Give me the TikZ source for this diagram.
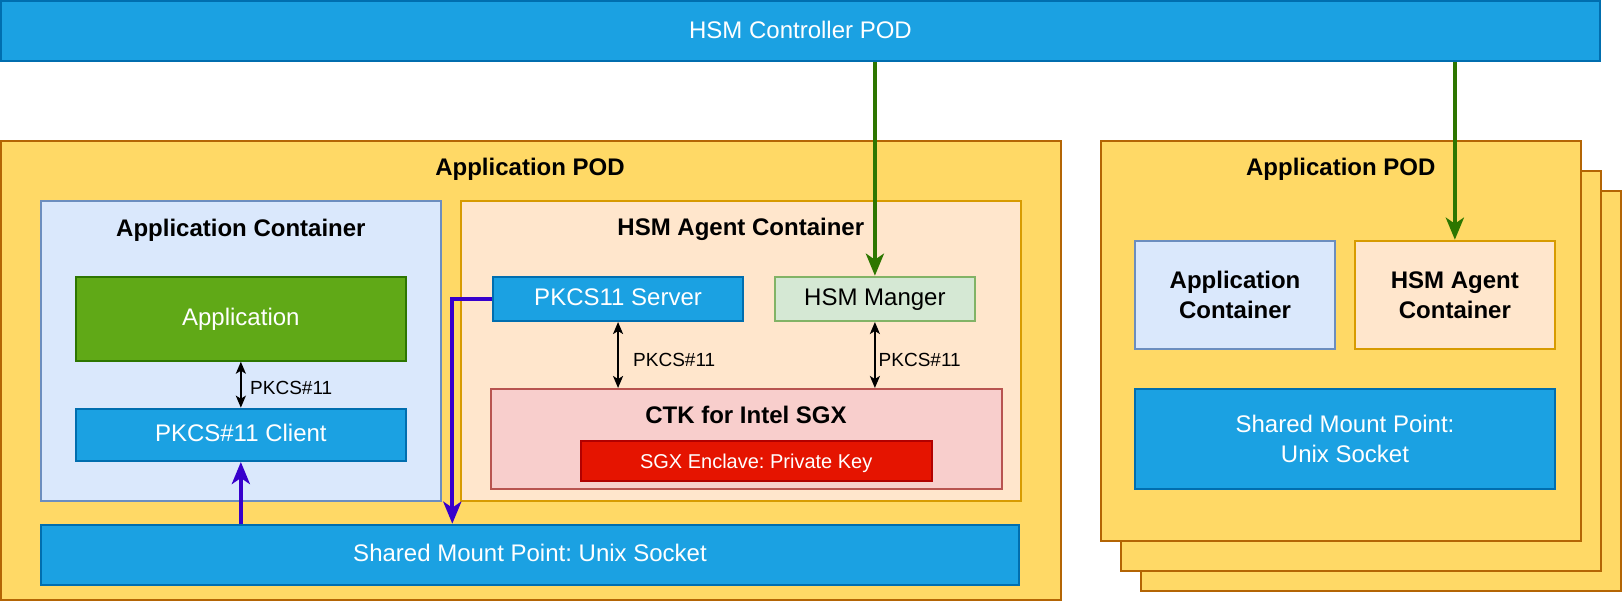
\documentclass[tikz,border=0pt]{standalone}
\usepackage{fontspec}
\setmainfont{Liberation Sans}
\usetikzlibrary{arrows.meta}
\frenchspacing
\definecolor{blueF}{HTML}{1BA1E2}
\definecolor{blueD}{HTML}{006EAF}
\definecolor{podF}{HTML}{FFD966}
\definecolor{podD}{HTML}{B46504}
\definecolor{appcF}{HTML}{DAE8FC}
\definecolor{appcD}{HTML}{6C8EBF}
\definecolor{agF}{HTML}{FFE6CC}
\definecolor{agD}{HTML}{D79B00}
\definecolor{grF}{HTML}{60A917}
\definecolor{grD}{HTML}{2D7600}
\definecolor{mgF}{HTML}{D5E8D4}
\definecolor{mgD}{HTML}{82B366}
\definecolor{ctF}{HTML}{F8CECC}
\definecolor{ctD}{HTML}{B85450}
\definecolor{sgF}{HTML}{E51400}
\definecolor{sgD}{HTML}{B20000}
\definecolor{purp}{HTML}{3700CC}
\tikzset{
  boxbase/.style={draw, line width=2pt, inner sep=0pt, font=\fontsize{24}{30}\selectfont},
  sz/.style 2 args={minimum width=#1pt, minimum height=#2pt},
  tx/.style={text height=19pt, text depth=5pt},
  ml/.style={align=center},
  bluebox/.style={boxbase, fill=blueF, draw=blueD, text=white},
  podbox/.style={boxbase, fill=podF, draw=podD},
  appcbox/.style={boxbase, fill=appcF, draw=appcD},
  agbox/.style={boxbase, fill=agF, draw=agD},
  grbox/.style={boxbase, fill=grF, draw=grD, text=white},
  mgbox/.style={boxbase, fill=mgF, draw=mgD},
  ctbox/.style={boxbase, fill=ctF, draw=ctD},
  sgbox/.style={boxbase, fill=sgF, draw=sgD, text=white, font=\fontsize{20}{24}\selectfont, text height=18pt, text depth=2pt},
  ttl/.style={inner sep=0pt, font=\bfseries\fontsize{24}{30}\selectfont, anchor=base},
  lbl/.style={inner sep=0pt, font=\fontsize{19}{23}\selectfont, anchor=base west},
  greenarrow/.style={draw=grD, line width=4pt, -{Stealth[length=22pt, width=18pt, inset=6pt]}},
  purparrow/.style={draw=purp, line width=4pt, -{Stealth[length=22pt, width=18pt, inset=6pt]}},
  blackarrow/.style={draw=black, line width=2pt, {Stealth[length=12pt, width=10pt, inset=3pt]}-{Stealth[length=12pt, width=10pt, inset=3pt]}},
}
\begin{document}
\begin{tikzpicture}[x=1pt, y=-1pt]
\useasboundingbox (0,0) rectangle (1624,602);
% top controller
\node[bluebox, tx, sz={1599}{60}] (ctrl) at (800.5,31) {HSM Controller POD};
% left pod
\node[podbox, sz={1059.7}{459.3}] (pod1) at (530.85,370.7) {};
\node[ttl] (t1) at (530,175.7) {Application POD};
% right pod stack
\node[podbox, sz={480.4}{400.3}] (podC) at (1380.8,390.85) {};
\node[podbox, sz={480.1}{400}] (podB) at (1360.85,371) {};
\node[podbox, sz={480.1}{400}] (podA) at (1340.75,340.7) {};
\node[ttl] (t2) at (1340.75,175) {Application POD};
% left containers
\node[appcbox, sz={400.3}{300}] (appc) at (240.85,350.7) {};
\node[ttl] (t3) at (240.85,236) {Application Container};
\node[agbox, sz={560.4}{300}] (agc) at (740.8,351) {};
\node[ttl] (t4) at (740.8,235) {HSM Agent Container};
\node[grbox, tx, sz={330.3}{84}] (appl) at (240.85,318.7) {Application};
\node[bluebox, tx, sz={330.3}{52.3}] (client) at (240.85,434.85) {PKCS\#11 Client};
\node[bluebox, tx, sz={978.6}{60.3}] (mount) at (530,554.85) {Shared Mount Point: Unix Socket};
\node[bluebox, tx, sz={250.7}{44.3}] (server) at (618.05,298.85) {PKCS11 Server};
\node[mgbox, tx, sz={200.2}{44.3}] (mgr) at (874.9,298.85) {HSM Manger};
\node[ctbox, sz={510.7}{100}] (ctk) at (746.15,439) {};
\node[ttl] (t5) at (746,423.3) {CTK for Intel SGX};
\node[sgbox, sz={351}{40.3}] (sgx) at (756.2,460.85) {SGX Enclave: Private Key};
% right pod content
\node[appcbox, ml, font=\bfseries\fontsize{24}{30}\selectfont, sz={200}{108.3}] (rapp) at (1235,294.85) {Application\\Container};
\node[agbox, ml, font=\bfseries\fontsize{24}{30}\selectfont, sz={200.3}{108.3}] (ragent) at (1454.85,294.85) {HSM Agent\\Container};
\node[bluebox, ml, sz={420}{100.3}] (rmount) at (1345,438.85) {Shared Mount Point:\\Unix Socket};
% connectors
\draw[greenarrow] (ctrl.south -| mgr.north) -- (mgr.north);
\draw[greenarrow] (ctrl.south -| ragent.north) -- (ragent.north);
\coordinate (pb) at (452.3,298.85);
\draw[purparrow] (server.west) -- (pb) -- (pb |- mount.north);
\draw[purparrow] (mount.north -| client.south) -- (client.south);
\draw[blackarrow] (appl.south) -- (client.north);
\draw[blackarrow] (server.south) -- (server.south |- ctk.north);
\draw[blackarrow] (mgr.south) -- (mgr.south |- ctk.north);
\node[lbl] (l1) at (250,394) {PKCS\#11};
\node[lbl] (l2) at (633,366) {PKCS\#11};
\node[lbl] (l3) at (878.5,366) {PKCS\#11};
\end{tikzpicture}
\end{document}
